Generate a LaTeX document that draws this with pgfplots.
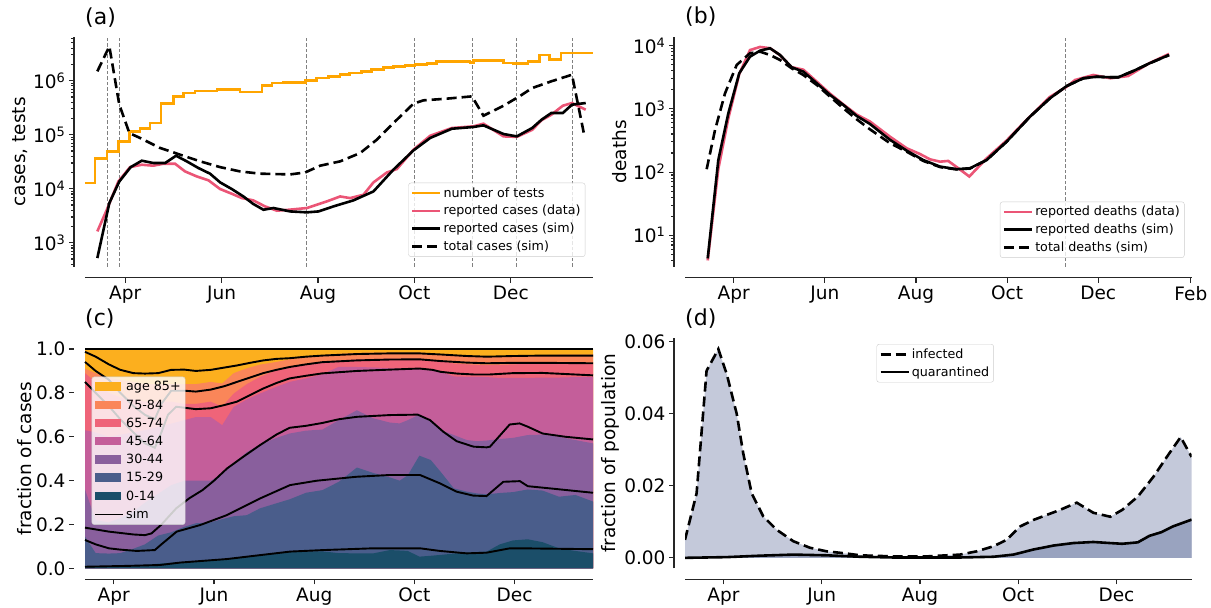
\documentclass[border=0pt]{standalone}
\usepackage{pgfplots}
\pgfplotsset{compat=1.18}
\usepackage{pgfplotstable}
\usepackage{fontspec}
\setmainfont{DejaVu Sans}

\definecolor{tests}{HTML}{FFA500}
\definecolor{datared}{HTML}{EB5576}
\definecolor{c85}{HTML}{FCAF1E}
\definecolor{c75}{HTML}{FA8659}
\definecolor{c65}{HTML}{EF6479}
\definecolor{c45}{HTML}{C45E9A}
\definecolor{c30}{HTML}{895F9D}
\definecolor{c15}{HTML}{4A5D8B}
\definecolor{c0}{HTML}{1B4E69}
\definecolor{inflight}{HTML}{C4C9DA}
\definecolor{quardark}{HTML}{99A3BF}

\newcommand{\ticksize}{\fontsize{18.5}{21}\selectfont}
\newcommand{\legsize}{\fontsize{12.7}{14}\selectfont}

\pgfplotsset{
  panel/.style={
    scale only axis, anchor=south west,
    axis lines*=left,
    axis line style={-, line width=1.1pt, black!85},
    axis x line shift=11pt, axis y line shift=11pt,
    tick align=outside,
    major tick length=5pt, minor tick length=3pt,
    tick style={line width=1.1pt, black!85},
    tick label style={font=\ticksize},
    title style={font=\fontsize{22}{24}\selectfont, at={(0,1)}, anchor=west, inner sep=0pt},
    legend cell align=left,
    legend style={font=\legsize, draw=black!20, rounded corners=2.5pt, fill=white,
      fill opacity=0.8, text opacity=1, inner sep=2.5pt, row sep=2.7pt,
      nodes={inner sep=2pt}},
    legend image code/.code={\draw[##1, sharp corners] (0pt,0pt) -- (28pt,0pt);},
  },
  ylab/.style={every axis y label/.style={at={(axis description cs:#1,0.5)},
    rotate=90, anchor=center, font=\ticksize}},
  patchleg/.style={legend image code/.code={\fill[##1, draw=none, sharp corners, fill opacity=1] (0pt,-4pt) rectangle (26pt,4.5pt);}},
  vline/.style={forget plot, gray, line width=0.8pt, dash pattern=on 3.5pt off 2pt},
  dsh/.style={dash pattern=on 10pt off 5pt},
}

% (a) number of tests, weekly
\pgfplotstableread{
day val
65.6 1.27e4
72 3.6e4
79.4 4.9e4
86.7 7.5e4
93.7 1.15e5
100.4 1.29e5
106.8 1.65e5
113.7 3.75e5
121.5 5.1e5
127.8 5.9e5
135.2 6.4e5
149 6.8e5
163.7 6.2e5
177.5 8.1e5
184 9.1e5
191 9.3e5
205 1.01e6
212 1.12e6
219.6 1.2e6
227 1.29e6
233 1.39e6
240.7 1.47e6
247 1.6e6
254.4 1.74e6
260.7 1.84e6
268 1.92e6
274.5 2.0e6
282 2.09e6
288 2.25e6
295.6 2.28e6
303 2.28e6
309.3 2.15e6
311.4 2.34e6
330.4 2.12e6
336.4 2.07e6
346 2.28e6
353.3 3.0e6
359.4 2.5e6
366.7 3.24e6
387 3.24e6
}\tests

\pgfplotstableread{
day val
73.4 1.62e3
79.4 4.08e3
86.7 1.36e4
94.1 2.51e4
101.5 2.78e4
108.8 2.67e4
115.2 2.9e4
122.6 2.9e4
128.9 2.09e4
136.3 1.69e4
143.7 1.43e4
151.1 9.86e3
158.5 8.07e3
164.8 6.71e3
172.1 6.08e3
179.5 4.71e3
187 3.92e3
195.4 4.1e3
206 4.39e3
218.6 5.82e3
227 7.19e3
233.3 6.71e3
241.8 7.74e3
248.1 1.31e4
256.6 2.0e4
262.9 2.31e4
273.4 5.27e4
284 9.57e4
297.7 1.33e5
311.4 1.43e5
317.7 1.6e5
330.4 9.31e4
338.8 9.12e4
348.5 1.23e5
354.5 1.86e5
360.6 2.34e5
367.9 3.44e5
373.7 3.86e5
382.4 2.9e5
}\casesdata

\pgfplotstableread{
day val
73.4 520
81 5.43e3
87.3 1.36e4
94.5 2.51e4
101.5 3.3e4
108.8 2.99e4
116.3 2.99e4
123.2 4.08e4
130 3.21e4
137.3 2.42e4
144.7 1.9e4
151.1 1.31e4
158.5 9.86e3
165.8 7.19e3
172.1 5.21e3
178.5 4.08e3
184.8 4.39e3
195.4 3.8e3
206 3.65e3
213.4 3.8e3
222.8 4.71e3
235.4 6.08e3
248.1 8.91e3
260.7 2.25e4
273.4 5.12e4
284 8.71e4
297.7 1.29e5
311.4 1.39e5
317.7 1.49e5
330.4 1.03e5
338.8 9.31e4
348.5 1.33e5
354.5 1.9e5
360.6 2.52e5
367.9 2.52e5
373.7 3.6e5
382.4 3.86e5
}\casessim

\pgfplotstableread{
day val
73.4 1.49e6
81 4.32e6
87.3 3.6e5
93.7 1.07e5
100.4 8.71e4
113.1 5.68e4
125.8 4.27e4
138.5 3.21e4
151.1 2.51e4
163.7 2.09e4
176.4 1.9e4
195.4 1.84e4
204.9 2.0e4
214.4 2.67e4
227 3.21e4
239.7 4.58e4
250.2 8.07e4
260.7 1.64e5
273.4 3.75e5
279.7 4.33e5
294.5 4.65e5
310.4 5.13e5
317.7 2.25e5
330.4 3.44e5
341 5.25e5
348.5 7.31e5
360.6 9.73e5
373.7 1.29e6
381.2 1.07e5
}\casestotal

% (b) deaths
\pgfplotstableread{
day val
73.6 4
80.7 112
87.4 708
94.7 3548
101.9 8511
108.6 9550
115.3 9120
122 7080
129.8 4571
137.6 4169
146.6 2692
155.5 1738
164.4 1175
173.3 813
182.2 631
195.6 363
206.8 238
215.7 193
222.4 159
229.1 146
234.6 150
241.3 115
248.7 85
260.3 165
273.7 316
284.8 592
302.7 1549
313.9 2239
319.5 2864
331.7 3436
343.2 3048
355 3311
369 5248
382.4 7413
}\deathsdata

\pgfplotstableread{
day val
73.6 4.3
80.7 155
87.4 851
94.7 3656
101.9 6699
108.6 8337
115.3 9100
122 7129
129.8 4550
137.6 3882
146.6 2541
155.5 1660
164.4 1153
173.3 773
182.2 577
195.6 324
206.8 218
217.9 155
229.1 122
240.3 111
249.2 115
260.3 155
273.7 303
289.3 753
302.7 1472
313.9 2301
325 3048
334 3228
342.9 3162
348.4 3162
358.9 4018
369.3 5260
382.4 7129
}\deathssim

\pgfplotstableread{
day val
72.9 111
78.5 463
85.2 1766
93 4955
101.9 7586
108.6 8035
115.3 7129
122 5943
129.8 4385
137.6 3436
146.6 2388
155.5 1560
164.4 1021
173.3 684
182.2 475
195.6 286
206.8 210
217.9 150
229.1 120
240.3 110
249.2 114
260.3 155
273.7 303
289.3 750
302.7 1470
313.9 2300
325 3040
334 3220
342.9 3160
348.4 3160
358.9 4010
369.3 5250
382.4 7100
}\deathstotal

% (c) cumulative fractions of reported cases by age group
\pgfplotstableread{
day b1 b2 b3 b4 b5 b6 b7
73.5 0.008 0.145 0.36 0.63 0.89 0.91 1
80 0.008 0.07 0.22 0.62 0.85 0.89 1
88 0.008 0.068 0.21 0.60 0.80 0.87 1
95 0.010 0.07 0.23 0.61 0.78 0.86 1
103 0.012 0.09 0.26 0.62 0.77 0.85 1
110 0.016 0.11 0.30 0.63 0.76 0.84 1
118 0.022 0.15 0.34 0.645 0.76 0.84 1
126 0.026 0.165 0.38 0.66 0.76 0.84 1
134 0.030 0.19 0.40 0.676 0.75 0.84 1
141 0.033 0.206 0.40 0.69 0.75 0.84 1
150 0.037 0.21 0.40 0.69 0.76 0.85 1
157 0.040 0.225 0.43 0.653 0.737 0.843 1
164 0.046 0.238 0.48 0.736 0.797 0.89 1
172 0.052 0.243 0.53 0.77 0.84 0.912 1
180 0.060 0.274 0.565 0.797 0.873 0.929 1
190 0.068 0.297 0.595 0.828 0.903 0.941 1
198 0.076 0.315 0.615 0.85 0.919 0.953 1
208 0.078 0.345 0.628 0.866 0.93 0.962 1
218 0.078 0.357 0.633 0.885 0.941 0.972 1
228 0.070 0.395 0.676 0.919 0.948 0.978 1
239 0.069 0.46 0.721 0.918 0.953 0.982 1
249 0.069 0.435 0.684 0.916 0.955 0.984 1
259 0.084 0.415 0.665 0.912 0.956 0.984 1
265 0.082 0.40 0.661 0.911 0.956 0.984 1
270 0.080 0.425 0.676 0.911 0.956 0.984 1
277 0.054 0.514 0.701 0.911 0.956 0.984 1
284 0.058 0.494 0.671 0.905 0.952 0.98 1
290 0.062 0.44 0.63 0.896 0.945 0.975 1
298 0.068 0.365 0.608 0.875 0.934 0.972 1
306 0.072 0.35 0.585 0.873 0.93 0.97 1
312 0.075 0.342 0.58 0.873 0.928 0.969 1
318 0.077 0.338 0.583 0.872 0.926 0.968 1
326 0.110 0.344 0.59 0.868 0.928 0.966 1
334 0.128 0.348 0.595 0.868 0.93 0.967 1
343 0.133 0.36 0.608 0.868 0.932 0.97 1
352 0.120 0.355 0.61 0.87 0.933 0.972 1
362 0.092 0.327 0.60 0.87 0.934 0.974 1
372 0.080 0.335 0.585 0.872 0.934 0.974 1
382.7 0.069 0.305 0.57 0.873 0.934 0.975 1
}\agefrac

% (d)
\pgfplotstableread{
day val
67.1 0.005
74.3 0.0179
80.5 0.0519
87.8 0.0579
93 0.051
99.2 0.040
103.3 0.0289
108.5 0.0179
115.7 0.0115
124 0.0078
134.4 0.0046
144.7 0.0028
155.1 0.0018
167.5 0.0012
175.8 0.0007
196.5 0.0004
217.2 0.0004
237.9 0.0009
248.2 0.0018
258.6 0.0032
266.9 0.005
275.2 0.0087
283.4 0.0105
291.7 0.0119
300 0.0133
310.4 0.0153
320.7 0.0125
331.2 0.0114
338.6 0.0133
348.3 0.017
358 0.0225
367.7 0.0289
374.9 0.0335
381.7 0.028
}\infected

\pgfplotstableread{
day val
67.1 0.0
93 0.0002
113.7 0.0006
134.4 0.0009
155.1 0.0007
175.8 0.0003
196.5 0.0001
237.9 0.0001
258.6 0.0003
271 0.0009
283.4 0.0023
295.8 0.0034
308.2 0.0041
320.7 0.0044
331.1 0.0041
338.6 0.0039
348.3 0.0043
355.5 0.0061
362.8 0.0071
370 0.0087
381.7 0.0106
}\quarantined

\begin{document}
\begin{tikzpicture}
\path[use as bounding box] (0pt,0pt) rectangle (1211pt,608pt);

% ---------------- (a)
\begin{axis}[panel, at={(85pt,341.3pt)}, width=508pt, height=230pt,
  title={(a)}, title style={yshift=13.4pt},
  xmin=65.6, xmax=387, ymode=log, ymin=360, ymax=6.53e6,
  xtick={91,152,213,274,335}, xticklabels={Apr,Jun,Aug,Oct,Dec},
  ytick={1e3,1e4,1e5,1e6},
  yticklabels={10\textsuperscript{3},10\textsuperscript{4},10\textsuperscript{5},10\textsuperscript{6}},
  minor ytick={400,500,600,700,800,900,2000,3000,4000,5000,6000,7000,8000,9000,
    2e4,3e4,4e4,5e4,6e4,7e4,8e4,9e4,2e5,3e5,4e5,5e5,6e5,7e5,8e5,9e5,2e6,3e6,4e6,5e6,6e6},
  ylab=-0.127, ylabel={cases, tests},
  legend style={at={(0.985,0.365)}, anchor=north east},
]
\addplot[vline] coordinates {(80,360) (80,6.53e6)};
\addplot[vline] coordinates {(87.1,360) (87.1,6.53e6)};
\addplot[vline] coordinates {(205.5,360) (205.5,6.53e6)};
\addplot[vline] coordinates {(273.8,360) (273.8,6.53e6)};
\addplot[vline] coordinates {(310.8,360) (310.8,6.53e6)};
\addplot[vline] coordinates {(338.8,360) (338.8,6.53e6)};
\addplot[vline] coordinates {(373.7,360) (373.7,6.53e6)};
\addplot[tests, line width=2.6pt, const plot] table[x=day, y=val] {\tests};
\addlegendentry{number of tests}
\addplot[datared, line width=2.6pt] table[x=day, y=val] {\casesdata};
\addlegendentry{reported cases (data)}
\addplot[black, line width=2.6pt] table[x=day, y=val] {\casessim};
\addlegendentry{reported cases (sim)}
\addplot[black, line width=2.6pt, dsh] table[x=day, y=val] {\casestotal};
\addlegendentry{total cases (sim)}
\end{axis}

% ---------------- (b)
\begin{axis}[panel, at={(685pt,341.3pt)}, width=506.6pt, height=230pt,
  title={(b)}, title style={yshift=13.7pt},
  xmin=58.4, xmax=397.5, ymode=log, ymin=3.18, ymax=13870,
  xtick={91,152,213,274,335,397}, xticklabels={Apr,Jun,Aug,Oct,Dec,Feb},
  ytick={10,100,1000,10000},
  yticklabels={10\textsuperscript{1},10\textsuperscript{2},10\textsuperscript{3},10\textsuperscript{4}},
  minor ytick={4,5,6,7,8,9,20,30,40,50,60,70,80,90,200,300,400,500,600,700,800,900,
    2000,3000,4000,5000,6000,7000,8000,9000},
  ylab=-0.130, ylabel={deaths},
  legend style={at={(0.986,0.283)}, anchor=north east},
]
\addplot[vline] coordinates {(313,3.18) (313,13870)};
\addplot[datared, line width=2.6pt] table[x=day, y=val] {\deathsdata};
\addlegendentry{reported deaths (data)}
\addplot[black, line width=2.6pt] table[x=day, y=val] {\deathssim};
\addlegendentry{reported deaths (sim)}
\addplot[black, line width=2.6pt, dsh] table[x=day, y=val] {\deathstotal};
\addlegendentry{total deaths (sim)}
\end{axis}

% ---------------- (c)
\begin{axis}[panel, at={(85pt,39.5pt)}, width=508pt, height=219.5pt,
  title={(c)}, title style={yshift=24pt},
  clip=false,
  xmin=73.5, xmax=382.7, ymin=0, ymax=1,
  y axis line style={draw=none},
  xtick={91,152,213,274,335}, xticklabels={Apr,Jun,Aug,Oct,Dec},
  ytick={0,0.2,0.4,0.6,0.8,1}, yticklabels={0.0,0.2,0.4,0.6,0.8,1.0},
  ylab=-0.118, ylabel={fraction of cases},
  legend style={at={(0.013,0.874)}, anchor=north west, row sep=3.3pt},
]
\addplot[forget plot, draw=none, fill=c85] table[x=day, y=b7] {\agefrac} \closedcycle;
\addplot[forget plot, draw=none, fill=c75] table[x=day, y=b6] {\agefrac} \closedcycle;
\addplot[forget plot, draw=none, fill=c65] table[x=day, y=b5] {\agefrac} \closedcycle;
\addplot[forget plot, draw=none, fill=c45] table[x=day, y=b4] {\agefrac} \closedcycle;
\addplot[forget plot, draw=none, fill=c30] table[x=day, y=b3] {\agefrac} \closedcycle;
\addplot[forget plot, draw=none, fill=c15] table[x=day, y=b2] {\agefrac} \closedcycle;
\addplot[forget plot, draw=none, fill=c0] table[x=day, y=b1] {\agefrac} \closedcycle;
\addplot[forget plot, black, line width=1.9pt] coordinates {(73.5,0.008) (100,0.012) (119.2,0.016) (131.4,0.027) (159.8,0.043) (198.3,0.077) (218.6,0.084) (249,0.092) (277.4,0.092) (289.5,0.08) (305.8,0.069) (317.9,0.072) (332.1,0.092) (338.2,0.092) (382.7,0.088)};
\addplot[forget plot, black, line width=1.9pt] coordinates {(73.5,0.13) (80,0.11) (88,0.092) (95,0.086) (105,0.08) (116,0.084) (120,0.11) (129.3,0.168) (143.6,0.198) (159.8,0.243) (180,0.319) (198.3,0.38) (214.6,0.40) (238.9,0.418) (259.1,0.426) (277.4,0.426) (289.5,0.388) (299.7,0.35) (309.8,0.332) (317.9,0.33) (328.1,0.395) (338.2,0.398) (343,0.375) (356.5,0.365) (382.7,0.345)};
\addplot[forget plot, black, line width=1.9pt] coordinates {(73.5,0.186) (80,0.178) (88,0.168) (95,0.162) (103,0.155) (110,0.152) (114,0.16) (120,0.20) (129,0.274) (137,0.32) (145,0.357) (152,0.40) (160,0.456) (170,0.51) (180,0.562) (190,0.61) (198,0.641) (208,0.65) (218,0.663) (228,0.68) (239,0.691) (259,0.699) (276,0.701) (283.5,0.676) (291.6,0.623) (299.7,0.58) (310,0.555) (318,0.552) (320,0.555) (332,0.656) (338,0.661) (343,0.646) (352,0.615) (366,0.60) (382.7,0.588)};
\addplot[forget plot, black, line width=1.9pt] coordinates {(73.5,0.85) (80,0.80) (88,0.74) (95,0.68) (103,0.62) (110,0.57) (116,0.55) (120,0.62) (124,0.70) (129,0.737) (141,0.726) (150,0.73) (158,0.744) (166,0.76) (174,0.79) (182,0.82) (190,0.845) (198,0.866) (208,0.878) (218,0.889) (239,0.90) (259,0.906) (277,0.911) (285,0.905) (290,0.896) (300,0.888) (310,0.884) (320,0.884) (334,0.89) (352,0.891) (382.7,0.88)};
\addplot[forget plot, black, line width=1.9pt] coordinates {(73.5,0.941) (80,0.9) (88,0.86) (95,0.80) (103,0.74) (110,0.70) (116,0.68) (120,0.75) (126,0.81) (134,0.81) (141,0.806) (150,0.815) (158,0.83) (166,0.85) (174,0.87) (182,0.89) (190,0.905) (198,0.918) (208,0.93) (218,0.94) (239,0.948) (259,0.952) (277,0.953) (290,0.945) (306,0.938) (318,0.935) (334,0.937) (352,0.937) (382.7,0.935)};
\addplot[forget plot, black, line width=1.9pt] coordinates {(73.5,0.987) (80,0.965) (88,0.93) (95,0.905) (103,0.89) (110,0.888) (118,0.89) (126,0.905) (134,0.906) (141,0.90) (150,0.905) (158,0.915) (166,0.925) (174,0.937) (182,0.948) (190,0.955) (198,0.958) (208,0.965) (218,0.97) (239,0.977) (259,0.98) (277,0.98) (290,0.975) (306,0.968) (318,0.965) (334,0.968) (352,0.97) (382.7,0.97)};
\addplot[forget plot, black, line width=1.9pt] coordinates {(73.5,1) (382.7,1)};
\addlegendimage{patchleg, fill=c85}\addlegendentry{age 85+}
\addlegendimage{patchleg, fill=c75}\addlegendentry{75-84}
\addlegendimage{patchleg, fill=c65}\addlegendentry{65-74}
\addlegendimage{patchleg, fill=c45}\addlegendentry{45-64}
\addlegendimage{patchleg, fill=c30}\addlegendentry{30-44}
\addlegendimage{patchleg, fill=c15}\addlegendentry{15-29}
\addlegendimage{patchleg, fill=c0}\addlegendentry{0-14}
\addlegendimage{black, line width=1.9pt}\addlegendentry{sim}
\end{axis}

% ---------------- (d)
\begin{axis}[panel, at={(685pt,39.7pt)}, width=506.6pt, height=230pt,
  title={(d)}, title style={yshift=13.3pt},
  xmin=67.1, xmax=381.7, ymin=-0.0029, ymax=0.0609,
  scaled y ticks=false,
  xtick={91,152,213,274,335}, xticklabels={Apr,Jun,Aug,Oct,Dec},
  ytick={0,0.02,0.04,0.06}, yticklabels={0.00,0.02,0.04,0.06},
  ylab=-0.1475, ylabel={fraction of population},
  legend style={at={(0.378,0.975)}, anchor=north west},
]
\addplot[forget plot, draw=none, fill=inflight] table[x=day, y=val] {\infected} \closedcycle;
\addplot[forget plot, draw=none, fill=quardark] table[x=day, y=val] {\quarantined} \closedcycle;
\addplot[black, line width=2.6pt, dsh] table[x=day, y=val] {\infected};
\addlegendentry{infected}
\addplot[black, line width=2.6pt] table[x=day, y=val] {\quarantined};
\addlegendentry{quarantined}
\end{axis}
\end{tikzpicture}
\end{document}
